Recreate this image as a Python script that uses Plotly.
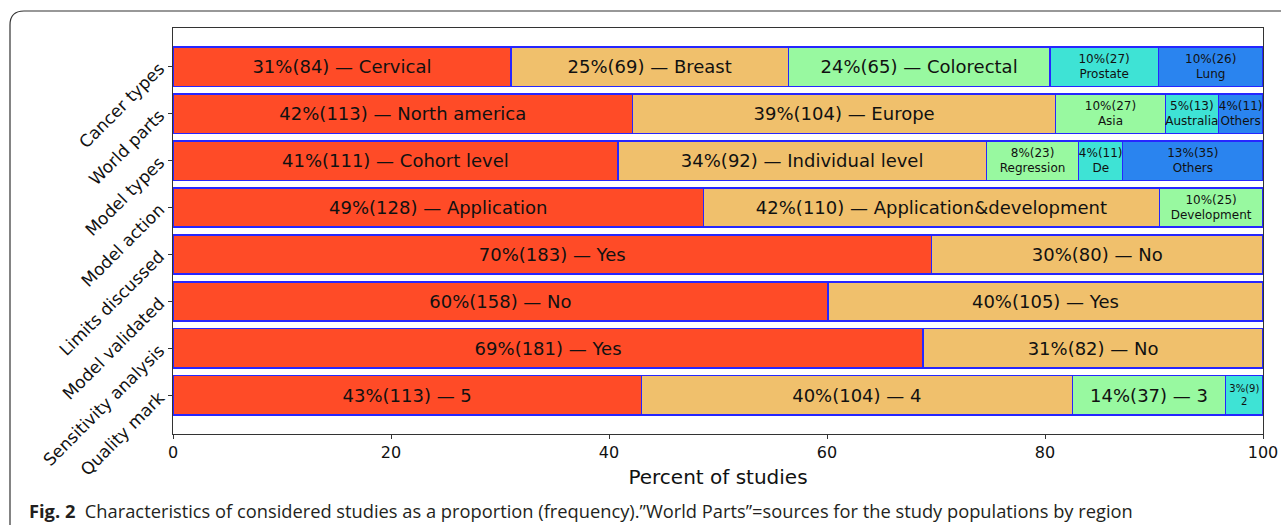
import plotly.graph_objects as go

categories = ["Cancer types", "World parts", "Model types", "Model action",
              "Limits discussed", "Model validated", "Sensitivity analysis", "Quality mark"]

segment_names = [
    ["Cervical", "Breast", "Colorectal", "Prostate", "Lung"],
    ["North america", "Europe", "Asia", "Australia", "Others"],
    ["Cohort level", "Individual level", "Regression", "De", "Others"],
    ["Application", "Application&development", "Development"],
    ["Yes", "No"],
    ["No", "Yes"],
    ["Yes", "No"],
    ["5", "4", "3", "2"],
]
segment_counts = [
    [84, 69, 65, 27, 26],
    [113, 104, 27, 13, 11],
    [111, 92, 23, 11, 35],
    [128, 110, 25],
    [183, 80],
    [158, 105],
    [181, 82],
    [113, 104, 37, 9],
]

colors = ["#FF4B27", "#F0C06C", "#98F9A0", "#3EE3D5", "#2A84EF"]

# pixel geometry helpers (plot area)
L, R, T, B = 173, 1263, 28, 434
W, H = R - L, B - T
def px(x):
    return (x - L) / W
def py(y):
    return (B - y) / H

fig = go.Figure()
nseg = max(len(s) for s in segment_counts)
for j in range(nseg):
    xs, texts, sizes = [], [], []
    for i, cat in enumerate(categories):
        counts = segment_counts[i]
        if j < len(counts):
            total = sum(counts)
            pct = counts[j] / total * 100
            lab = f"{round(pct)}%({counts[j]})"
            if pct < 13.5:
                texts.append(f"{lab}<br>{segment_names[i][j]}")
                sizes.append(10 if pct < 4 else 12)
            else:
                texts.append(f"{lab} — {segment_names[i][j]}")
                sizes.append(18)
            xs.append(pct)
        else:
            xs.append(None)
            texts.append("")
            sizes.append(12)
    fig.add_trace(go.Bar(
        y=categories, x=xs, orientation="h",
        marker=dict(color=colors[j], line=dict(color="#2626FF", width=1.5)),
        text=texts, textposition="inside", insidetextanchor="middle",
        textangle=0, constraintext="none",
        textfont=dict(size=sizes, color="#111111", family="DejaVu Sans"),
        width=0.84, hoverinfo="skip", showlegend=False,
    ))

# outer rounded frame
path = (f"M {px(10)},{py(540)} L {px(10)},{py(25)} "
        f"Q {px(10)},{py(11)} {px(24)},{py(11)} L {px(1300)},{py(11)}")
fig.add_shape(type="path", path=path, xref="paper", yref="paper",
              line=dict(color="#333333", width=1.2), layer="above")

fig.add_annotation(
    x=px(27), y=py(510), xref="paper", yref="paper", xanchor="left", yanchor="middle",
    showarrow=False, align="left",
    text="<b>Fig. 2</b>  Characteristics of considered studies as a proportion (frequency).\u201dWorld Parts\u201d=sources for the study populations by region",
    font=dict(family="Open Sans", size=18.3, color="#231F20"),
)

fig.update_layout(
    width=1281, height=525,
    margin=dict(l=L, r=1281 - R, t=T, b=525 - B),
    barmode="stack",
    paper_bgcolor="white", plot_bgcolor="white",
    font=dict(family="DejaVu Sans", color="#111111"),
)
fig.update_xaxes(
    range=[0, 100], tickvals=[0, 20, 40, 60, 80, 100], automargin=False,
    showline=True, mirror=True, linecolor="#333333", linewidth=1.2,
    ticks="outside", ticklen=4, tickcolor="#333333",
    showgrid=False, zeroline=False,
    tickfont=dict(size=16, color="#111111"),
    title=dict(text="Percent of studies", font=dict(size=20, color="#111111"), standoff=8),
)
fig.update_yaxes(
    categoryorder="array", categoryarray=categories, automargin=False,
    range=[len(categories) - 1 + 0.82, -0.82],
    showline=True, mirror=True, linecolor="#333333", linewidth=1.2,
    ticks="outside", ticklen=4, tickcolor="#333333", ticklabelstandoff=5,
    showgrid=False, zeroline=False, tickangle=-45,
    tickfont=dict(size=17, color="#111111"),
)

fig.write_html("out.html", config={"displayModeBar": False},
               post_script="document.body.style.margin='0';document.body.style.overflow='hidden';")
